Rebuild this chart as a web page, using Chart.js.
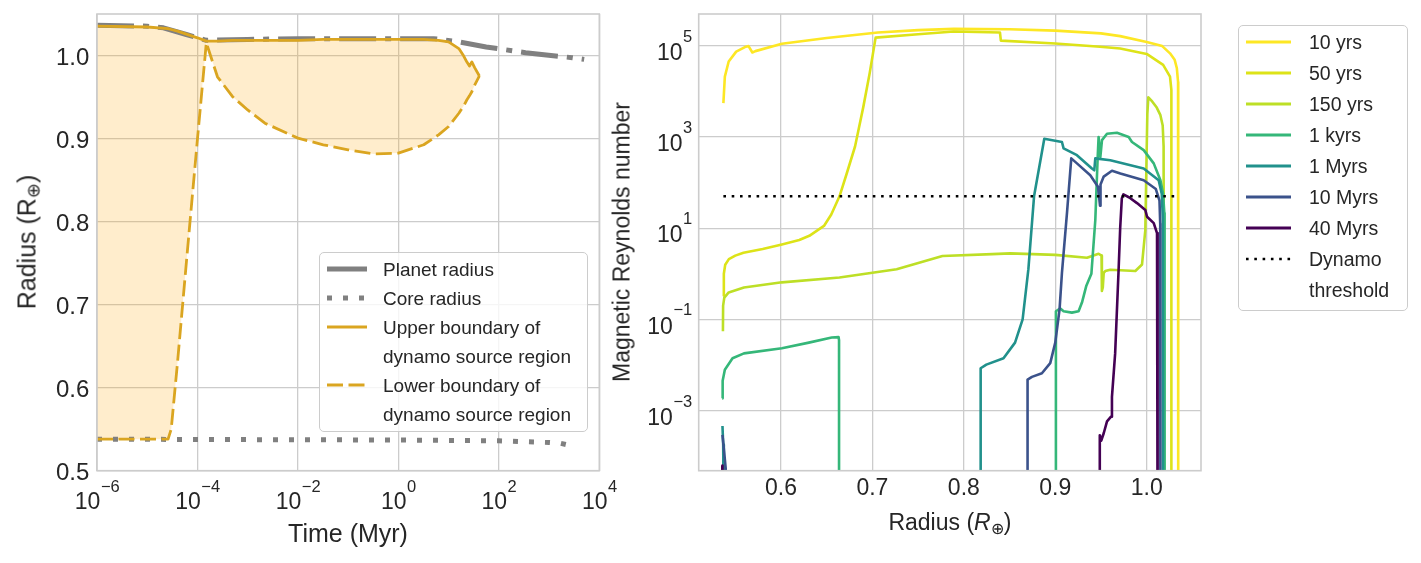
<!DOCTYPE html>
<html lang="en">
<head>
<meta charset="UTF-8">
<title>Dynamo source region and magnetic Reynolds number</title>
<script src="https://cdn.jsdelivr.net/npm/chart.js"></script>
<style>
    body {
        margin: 0;
        background: #ffffff;
        overflow: hidden;
        font-family: "Liberation Sans", Arial, sans-serif;
        color: #262626;
    }

    #page {
        position: relative;
        width: 1421px;
        height: 563px;
    }

    canvas {
        position: absolute;
        top: 0;
    }

    .txt {
        position: absolute;
        white-space: nowrap;
        line-height: 1;
    }

    .legend-box {
        position: absolute;
        box-sizing: border-box;
        border: 1.2px solid #cccccc;
        border-radius: 5px;
        background: rgba(255, 255, 255, 0.8);
    }

    sub {
        font-size: 70%;
        vertical-align: -0.22em;
        line-height: 0;
    }
</style>
</head>
<body>
<div id="page">
    <canvas id="radiusChart" width="620" height="563" style="left:0"></canvas>
    <canvas id="reynoldsChart" width="801" height="563" style="left:620px"></canvas>
</div>

<script>
    // ---- left panel: radius evolution (time in Myr, radius in Earth radii)
    const boundaryTime = [1e-6, 1e-5, 2.6e-5, 3.0e-5, 4.0e-5, 5.6e-5, 7.1e-5, 1e-4, 1.5e-4, 2.5e-4,
                          5e-4, 1e-3, 2.2e-3, 1e-2, 3.2e-2, 0.1, 0.32, 1, 3.2, 6.3,
                          10, 16, 20, 23, 26, 29, 33, 41];
    const upperBoundary = [1.036, 1.035, 1.033, 1.032, 1.030, 1.027, 1.025, 1.022, 1.018, 1.018,
                           1.019, 1.019, 1.019, 1.019, 1.020, 1.020, 1.020, 1.020, 1.020, 1.019,
                           1.017, 1.009, 1.000, 0.993, 0.988, 0.993, 0.986, 0.976];
    const lowerBoundary = [0.538, 0.538, 0.538, 0.550, 0.630, 0.730, 0.800, 0.900, 1.016, 0.975,
                           0.951, 0.935, 0.919, 0.901, 0.893, 0.887, 0.882, 0.883, 0.893, 0.905,
                           0.915, 0.931, 0.940, 0.947, 0.952, 0.957, 0.965, 0.976];
    const planetTime = [1e-6, 1e-5, 2.1e-5, 6e-5, 1.5e-4, 1e-3, 1e-2, 1, 5, 16, 56, 340, 2900, 5000];
    const planetRadius = [1.037, 1.036, 1.034, 1.026, 1.019, 1.020, 1.021, 1.021, 1.021, 1.017, 1.011, 1.004, 0.998, 0.996];
    const coreTime = [1e-6, 1, 100, 300, 1000, 1700, 3300];
    const coreRadius = [0.538, 0.537, 0.536, 0.535, 0.534, 0.533, 0.529];
    const timeTicks = [1e-6, 1e-4, 1e-2, 1, 1e2, 1e4];
    const radiusTicks = [0.5, 0.6, 0.7, 0.8, 0.9, 1.0];
    const radiusLegend = [
        ["Planet radius"],
        ["Core radius"],
        ["Upper boundary of", "dynamo source region"],
        ["Lower boundary of", "dynamo source region"]
    ];

    // ---- right panel: magnetic Reynolds number against radius (below-axis values drop out of view)
    const seriesLabels = ["10 yrs", "50 yrs", "150 yrs", "1 kyrs", "1 Myrs", "10 Myrs", "40 Myrs"];
    const r10yrs = [0.537, 0.5386, 0.5428, 0.551, 0.5616, 0.5645, 0.5687, 0.572, 0.601, 0.65,
                    0.706, 0.75, 0.789, 0.85, 0.9, 0.95, 0.971, 1.0, 1.017, 1.0255,
                    1.0306, 1.033, 1.0343, 1.0345, 1.0345];
    const rm10yrs = [5500, 2.1e4, 4.5e4, 7.4e4, 9.5e4, 9.8e4, 7.1e4, 7.6e4, 1.1e5, 1.48e5,
                     1.95e5, 2.19e5, 2.34e5, 2.29e5, 2.14e5, 1.86e5, 1.62e5, 1.2e5, 9.8e4, 6.8e4,
                     4.9e4, 3.2e4, 1.6e4, 3200, 1e-6];
    const r50yrs = [0.537, 0.5375, 0.539, 0.543, 0.55, 0.559, 0.58, 0.601, 0.62, 0.631,
                    0.641, 0.647, 0.655, 0.664, 0.672, 0.681, 0.69, 0.697, 0.7035, 0.75,
                    0.789, 0.8395, 0.8405, 0.9, 0.949, 0.971, 1.0, 1.018, 1.0255, 1.027, 1.027];
    const rm50yrs = [0.32, 1.0, 1.58, 2.1, 2.5, 2.9, 3.5, 4.4, 5.5, 6.8,
                     9.3, 11.2, 20, 50, 160, 617, 4500, 25000, 1.5e5, 1.78e5,
                     2.04e5, 1.95e5, 1.29e5, 1.12e5, 9.5e4, 8.7e4, 6.6e4, 3.8e4, 2.1e4, 1.07e4, 1e-6];
    const r150yrs = [0.5365, 0.5367, 0.538, 0.5428, 0.5595, 0.601, 0.664, 0.7265, 0.7766, 0.831,
                     0.8507, 0.9, 0.9347, 0.9474, 0.9506, 0.951, 0.952, 0.953, 0.9547, 0.9602,
                     0.9876, 0.9949, 0.9985, 0.9998, 1.0007, 1.0018, 1.006, 1.011, 1.015, 1.0175,
                     1.0185, 1.019];
    const rm150yrs = [0.055, 0.2, 0.3, 0.39, 0.5, 0.65, 0.83, 1.26, 2.45, 2.7,
                      2.8, 2.6, 2.24, 2.75, 2.5, 0.42, 0.5, 1.05, 1.15, 1.23,
                      1.15, 1.6, 9.1, 316, 3160, 7400, 6000, 4400, 3000, 1780,
                      630, 1e-6];
    const r1kyrs = [0.5357, 0.5362, 0.5386, 0.547, 0.5595, 0.601, 0.6305, 0.6555, 0.663, 0.6635,
                    0.6635, 0.9005, 0.9007, 0.9055, 0.9091, 0.9182, 0.9255, 0.9292, 0.934, 0.9395,
                    0.9438, 0.9464, 0.9474, 0.9493, 0.9511, 0.9566, 0.9675, 0.9803, 0.9839, 0.9967,
                    1.0077, 1.015, 1.0179, 1.0193, 1.0196];
    const rm1kyrs = [0.00186, 0.0045, 0.0079, 0.0141, 0.018, 0.0234, 0.031, 0.04, 0.041, 0.035,
                     1e-6, 1e-6, 0.151, 0.174, 0.151, 0.141, 0.151, 0.234, 0.55, 1.0,
                     15.1, 363, 1000, 363, 851, 1175, 1230, 1000, 776, 513,
                     263, 112, 57.5, 21.4, 1e-6];
    const r1Myrs = [0.536, 0.5368, 0.5375, 0.8183, 0.8184, 0.8246, 0.8434, 0.856, 0.8643, 0.8706,
                    0.8768, 0.888, 0.9073, 0.9091, 0.9237, 0.9401, 0.9427, 0.9438, 0.9602, 0.9967,
                    1.0131, 1.0165, 1.0177, 1.0179];
    const rm1Myrs = [4.6e-4, 1.8e-4, 1e-6, 1e-6, 0.0085, 0.0102, 0.0141, 0.031, 0.1, 1.26,
                     50, 912, 776, 562, 398, 204, 186, 339, 309, 204,
                     112, 56, 15.8, 1e-6];
    const r10Myrs = [0.536, 0.5378, 0.5395, 0.540, 0.8695, 0.8697, 0.8745, 0.8854, 0.8945, 0.9,
                     0.9047, 0.9073, 0.9128, 0.9175, 0.9237, 0.9383, 0.9467, 0.949, 0.9495, 0.953,
                     0.962, 0.9712, 0.9967, 1.010, 1.014, 1.0148, 1.015];
    const rm10Myrs = [2.95e-4, 1.26e-4, 5.5e-5, 1e-6, 1e-6, 0.0048, 0.0055, 0.0066, 0.011, 0.031,
                      0.166, 1.05, 21.4, 339, 263, 145, 81, 31, 91, 135,
                      182, 158, 112, 72, 40, 12.6, 1e-6];
    const r40Myrs = [0.5358, 0.536, 0.9485, 0.9487, 0.9503, 0.953, 0.9566, 0.961, 0.962, 0.9655,
                     0.9693, 0.971, 0.9728, 0.9745, 0.981, 0.9894, 0.9985, 1.0004, 1.0077, 1.0113,
                     1.0119, 1.012];
    const rm40Myrs = [6.3e-5, 1e-6, 1e-6, 2.9e-4, 2.2e-4, 3.2e-4, 5.8e-4, 7.4e-4, 0.002, 0.018,
                      1.26, 10, 45, 55, 47, 35.5, 25, 17.8, 12.9, 7.8,
                      2.5, 1e-6];
    const thresholdR = [0.537, 1.035];
    const thresholdRm = [50, 50];
    const rmTicks = [1e-3, 1e-1, 1e1, 1e3, 1e5];
    const rTicks = [0.6, 0.7, 0.8, 0.9, 1.0];

    const seriesR = [r10yrs, r50yrs, r150yrs, r1kyrs, r1Myrs, r10Myrs, r40Myrs];
    const seriesRm = [rm10yrs, rm50yrs, rm150yrs, rm1kyrs, rm1Myrs, rm10Myrs, rm40Myrs];
    const seriesColors = ["#fde725", "#dde318", "#bddf26", "#35b779", "#21918c", "#3b528b", "#440154"];

    const FONT = '"Liberation Sans", Arial, sans-serif';
    const TEXT = "#262626";
    const GRID = "#cccccc";
    const GOLD = "#daa520";
    const GREY = "#808080";

    function pts(xs, ys) {
        return xs.map((x, i) => ({ x: x, y: ys[i] }));
    }

    function fixedTicks(values) {
        return function (scale) {
            scale.ticks = values.map(v => ({ value: v }));
        };
    }

    function drawFrame(ctx, a) {
        ctx.strokeStyle = GRID;
        ctx.lineWidth = 1.6;
        ctx.strokeRect(a.left, a.top, a.right - a.left, a.bottom - a.top);
    }

    // "10" with a raised exponent, like matplotlib's mathtext tick labels
    function drawPower(ctx, exp, x, baseline, rise, align) {
        const sup = String(exp).replace("-", "\u2212");
        ctx.font = "23px " + FONT;
        const wBase = ctx.measureText("10").width;
        ctx.font = "16.5px " + FONT;
        const wSup = ctx.measureText(sup).width;
        const x0 = align === "center" ? x - (wBase + wSup) / 2 : x - wBase - wSup;
        ctx.textAlign = "left";
        ctx.textBaseline = "alphabetic";
        ctx.font = "23px " + FONT;
        ctx.fillText("10", x0, baseline);
        ctx.font = "16.5px " + FONT;
        ctx.fillText(sup, x0 + wBase + 0.5, baseline - rise);
    }

    const radiusAxes = {
        id: "radiusAxes",
        afterDraw(chart) {
            const ctx = chart.ctx, a = chart.chartArea, xs = chart.scales.x, ys = chart.scales.y;
            ctx.save();
            drawFrame(ctx, a);
            ctx.fillStyle = TEXT;
            ctx.font = "24px " + FONT;
            ctx.textAlign = "right";
            ctx.textBaseline = "alphabetic";
            ys.ticks.forEach(t => {
                ctx.fillText(t.value.toFixed(1), a.left - 7.7, ys.getPixelForValue(t.value) + 9.3);
            });
            xs.ticks.forEach(t => {
                drawPower(ctx, Math.round(Math.log10(t.value)), xs.getPixelForValue(t.value), a.bottom + 38.6, 17.6, "center");
            });
            ctx.restore();
        }
    };

    const reynoldsAxes = {
        id: "reynoldsAxes",
        afterDraw(chart) {
            const ctx = chart.ctx, a = chart.chartArea, xs = chart.scales.x, ys = chart.scales.y;
            ctx.save();
            drawFrame(ctx, a);
            ctx.fillStyle = TEXT;
            ctx.font = "23px " + FONT;
            ctx.textAlign = "center";
            ctx.textBaseline = "alphabetic";
            xs.ticks.forEach(t => {
                ctx.fillText(t.value.toFixed(1), xs.getPixelForValue(t.value), a.bottom + 24.3);
            });
            ys.ticks.forEach(t => {
                const y = ys.getPixelForValue(t.value);
                drawPower(ctx, Math.round(Math.log10(t.value)), a.left - 7, y + 14.3, 18.3, "right");
            });
            ctx.restore();
        }
    };

    const gridStyle = { color: GRID, lineWidth: 1.3, drawTicks: false };

    // Initialize radius chart (left)
    let ctx1 = document.getElementById("radiusChart").getContext("2d");
    let radiusChart = new Chart(ctx1, {
        type: "line",
        data: {
            datasets: [
                {
                    label: "Upper boundary of dynamo source region",
                    data: pts(boundaryTime, upperBoundary),
                    borderColor: GOLD,
                    borderWidth: 2.8,
                    backgroundColor: "rgba(255, 165, 0, 0.2)",
                    fill: "+1"
                },
                {
                    label: "Lower boundary of dynamo source region",
                    data: pts(boundaryTime, lowerBoundary),
                    borderColor: GOLD,
                    borderWidth: 2.8,
                    borderDash: [16, 5.5],
                    fill: false
                },
                {
                    label: "Core radius",
                    data: pts(coreTime, coreRadius),
                    borderColor: GREY,
                    borderWidth: 5,
                    borderDash: [5, 11],
                    fill: false
                },
                {
                    label: "Planet radius",
                    data: pts(planetTime, planetRadius),
                    borderColor: GREY,
                    borderWidth: 5,
                    borderDash: [37, 9, 6, 9],
                    fill: false
                }
            ]
        },
        options: {
            responsive: false,
            animation: false,
            events: [],
            layout: { padding: { left: 0, top: 14, right: 20.7, bottom: 0 } },
            elements: { point: { radius: 0 }, line: { tension: 0, borderJoinStyle: "round" } },
            plugins: {
                legend: { display: false },
                tooltip: { enabled: false },
                filler: { drawTime: "beforeDatasetsDraw" }
            },
            scales: {
                x: {
                    type: "logarithmic",
                    min: 1e-6,
                    max: 1e4,
                    grid: gridStyle,
                    border: { display: false },
                    ticks: { display: false },
                    afterBuildTicks: fixedTicks(timeTicks),
                    afterFit: s => { s.height = 92.3; }
                },
                y: {
                    type: "linear",
                    min: 0.5,
                    max: 1.0507,
                    grid: gridStyle,
                    border: { display: false },
                    ticks: { display: false },
                    afterBuildTicks: fixedTicks(radiusTicks),
                    afterFit: s => { s.width = 97; }
                }
            }
        },
        plugins: [radiusAxes]
    });

    // Initialize Reynolds number chart (right); later series sit on top, threshold above all
    let reynoldsSets = seriesLabels.map((label, i) => ({
        label: label,
        data: pts(seriesR[i], seriesRm[i]),
        borderColor: seriesColors[i],
        borderWidth: 2.6,
        fill: false,
        clip: 0,
        order: 10 - i
    }));
    reynoldsSets.push({
        label: "Dynamo threshold",
        data: pts(thresholdR, thresholdRm),
        borderColor: "#000000",
        borderWidth: 2.6,
        borderDash: [2.6, 5.7],
        fill: false,
        clip: 0,
        order: 0
    });

    let ctx2 = document.getElementById("reynoldsChart").getContext("2d");
    let reynoldsChart = new Chart(ctx2, {
        type: "line",
        data: { datasets: reynoldsSets },
        options: {
            responsive: false,
            animation: false,
            events: [],
            layout: { padding: { left: 0, top: 14, right: 220, bottom: 0 } },
            elements: { point: { radius: 0 }, line: { tension: 0, borderJoinStyle: "round" } },
            plugins: {
                legend: { display: false },
                tooltip: { enabled: false }
            },
            scales: {
                x: {
                    type: "linear",
                    min: 0.51,
                    max: 1.0594,
                    grid: gridStyle,
                    border: { display: false },
                    ticks: { display: false },
                    afterBuildTicks: fixedTicks(rTicks),
                    afterFit: s => { s.height = 92.3; }
                },
                y: {
                    type: "logarithmic",
                    min: 4.83e-5,
                    max: 4.95e5,
                    grid: gridStyle,
                    border: { display: false },
                    ticks: { display: false },
                    afterBuildTicks: fixedTicks(rmTicks),
                    afterFit: s => { s.width = 78.7; }
                }
            }
        },
        plugins: [reynoldsAxes]
    });

    // ---- titles and legends as page text
    const page = document.getElementById("page");

    function addText(html, x, baseline, size, align) {
        const d = document.createElement("div");
        d.className = "txt";
        d.style.fontSize = size + "px";
        d.style.left = x + "px";
        d.style.top = (baseline - 0.8465 * size) + "px";
        if (align === "center") d.style.transform = "translateX(-50%)";
        d.innerHTML = html;
        page.appendChild(d);
    }

    function addVertical(html, cx, cy, size) {
        const d = document.createElement("div");
        d.className = "txt";
        d.style.fontSize = size + "px";
        d.style.left = cx + "px";
        d.style.top = cy + "px";
        d.style.transform = "translate(-50%, -50%) rotate(-90deg)";
        d.innerHTML = html;
        page.appendChild(d);
    }

    function addBox(left, top, right, bottom) {
        const d = document.createElement("div");
        d.className = "legend-box";
        d.style.left = left + "px";
        d.style.top = top + "px";
        d.style.width = (right - left) + "px";
        d.style.height = (bottom - top) + "px";
        page.appendChild(d);
    }

    function addSample(x1, x2, y, color, width, dash) {
        const ns = "http://www.w3.org/2000/svg";
        const svg = document.createElementNS(ns, "svg");
        svg.setAttribute("width", x2 - x1);
        svg.setAttribute("height", 12);
        svg.style.position = "absolute";
        svg.style.left = x1 + "px";
        svg.style.top = (y - 6) + "px";
        const ln = document.createElementNS(ns, "line");
        ln.setAttribute("x1", 0);
        ln.setAttribute("x2", x2 - x1);
        ln.setAttribute("y1", 6);
        ln.setAttribute("y2", 6);
        ln.setAttribute("stroke", color);
        ln.setAttribute("stroke-width", width);
        if (dash) ln.setAttribute("stroke-dasharray", dash);
        svg.appendChild(ln);
        page.appendChild(svg);
    }

    addText("Time (Myr)", 348, 541.7, 25, "center");
    addVertical("Radius (R<sub>\u2295</sub>)", 27.3, 242.3, 25);
    addText("Radius (<i>R</i><sub>\u2295</sub>)", 949.9, 530, 23, "center");
    addVertical("Magnetic Reynolds number", 621.5, 242.3, 23);

    // left legend
    addBox(319, 252, 588.3, 431.7);
    const leftSamples = [
        { color: GREY, width: 5, dash: null },
        { color: GREY, width: 5, dash: "5 11" },
        { color: GOLD, width: 2.8, dash: null },
        { color: GOLD, width: 2.8, dash: "16 5.5" }
    ];
    let baseline = 276;
    radiusLegend.forEach((lines, i) => {
        addSample(327, 367, baseline - 7.5, leftSamples[i].color, leftSamples[i].width, leftSamples[i].dash);
        lines.forEach(line => {
            addText(line, 383, baseline, 19);
            baseline += 29;
        });
    });

    // right legend
    addBox(1238.3, 25, 1407.7, 311);
    seriesLabels.forEach((label, i) => {
        addSample(1245.7, 1291, 42.3 + 31 * i, seriesColors[i], 2.8, null);
        addText(label, 1309, 50 + 31 * i, 19.5);
    });
    addSample(1245.7, 1291, 42.3 + 31 * 7, "#000000", 2.6, "2.6 5.7");
    addText("Dynamo", 1309, 50 + 31 * 7, 19.5);
    addText("threshold", 1309, 50 + 31 * 8, 19.5);
</script>
</body>
</html>
